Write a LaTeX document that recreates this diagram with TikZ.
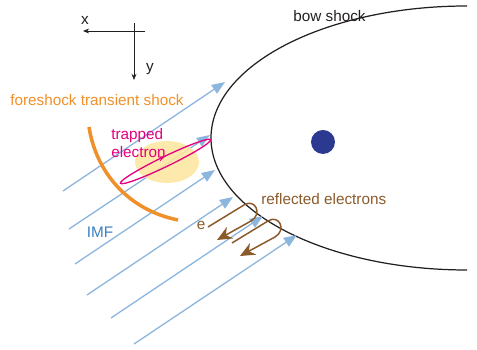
\documentclass[tikz,border=0pt]{standalone}
\usepackage{fontspec}
\setmainfont{Liberation Sans}
\usepackage{xcolor}
\usepackage{tikz}
\usetikzlibrary{arrows.meta, decorations.markings}

\definecolor{imfblue}{HTML}{8DB6DF}
\definecolor{imftext}{HTML}{3A7EC0}
\definecolor{ftsorange}{HTML}{F0902A}
\definecolor{trapmag}{HTML}{E4007F}
\definecolor{reflbrown}{HTML}{8B5A2B}
\definecolor{heatyellow}{HTML}{FDE6A0}
\definecolor{earthblue}{HTML}{2B3990}
\definecolor{inkgray}{HTML}{231F20}

\begin{document}
\begin{tikzpicture}[
    x=0.02cm, y=-0.02cm,
    lbl/.style={font=\fontsize{8.7}{9.8}\selectfont, inner sep=0pt},
    imf/.style={imfblue, line width=0.75pt, -{Triangle[length=7.5pt, width=5.8pt]}},
    refl/.style={reflbrown, line width=0.85pt, -{Stealth[length=8.5pt, width=7.5pt]}},
    axisline/.style={inkgray, line width=0.45pt, -{Stealth[length=3.5pt, width=2.8pt]}},
    trapped/.style={trapmag, line width=0.75pt,
        postaction={decorate, decoration={markings,
            mark=at position 0.76 with {\arrow{Stealth[length=4pt, width=3pt]}}}}}
]
    \useasboundingbox (0,0) rectangle (477,350);

    \coordinate (origin) at (134,31);
    \draw[axisline] (145,31) -- (83,31);
    \draw[axisline] (134,23) -- (134,80);
    \node[lbl, text=inkgray] (xlab) at (85,20) {x};
    \node[lbl, text=inkgray] (ylab) at (150,69) {y};

    \draw[inkgray, line width=0.7pt] (467,6) arc[start angle=-90, end angle=-270, x radius=256, y radius=132];
    \node[lbl, text=inkgray, anchor=west] (bow) at (293,16) {bow shock};
    \fill[earthblue] (323,142) circle[radius=12];

    \foreach \n/\sx/\sy/\ex/\ey in {a/63/191/225/82, b/69/229/210/135, c/75/264/215/170,
                                   d/87/295/233/197, e/111/318/263/216, f/134/344/297/235} {
        \coordinate (imf\n s) at (\sx,\sy);
        \coordinate (imf\n e) at (\ex,\ey);
        \draw[imf] (imf\n s) -- (imf\n e);
    }
    \node[lbl, text=imftext] (imf) at (100,232) {IMF};

    \fill[heatyellow, opacity=0.88] (167,162) ellipse[x radius=32, y radius=21];
    \draw[ftsorange, line width=2pt] (89,127) .. controls (96,172) and (128,210) .. (178,220);
    \node[lbl, text=ftsorange] (fts) at (97,100) {foreshock transient shock};

    \draw[trapped, rotate around={25.8:(165.5,161.5)}] (165.5,161.5) ellipse[x radius=50, y radius=5];
    \node[lbl, text=trapmag, anchor=west, align=left] (trap) at (111,143) {trapped\\electron};

    \coordinate (eone) at (208,227);
    \coordinate (etwo) at (232,243);
    \draw[refl] (eone) -- (244,205) .. controls (255,198) and (263,214) .. (251,221) -- (217,240);
    \draw[refl] (etwo) -- (268,221) .. controls (279,214) and (287,230) .. (275,237) -- (240,256);
    \node[lbl, text=reflbrown] (e) at (201,225) {e};
    \node[lbl, text=reflbrown, anchor=west] (refl) at (261,199) {reflected electrons};
\end{tikzpicture}
\end{document}
